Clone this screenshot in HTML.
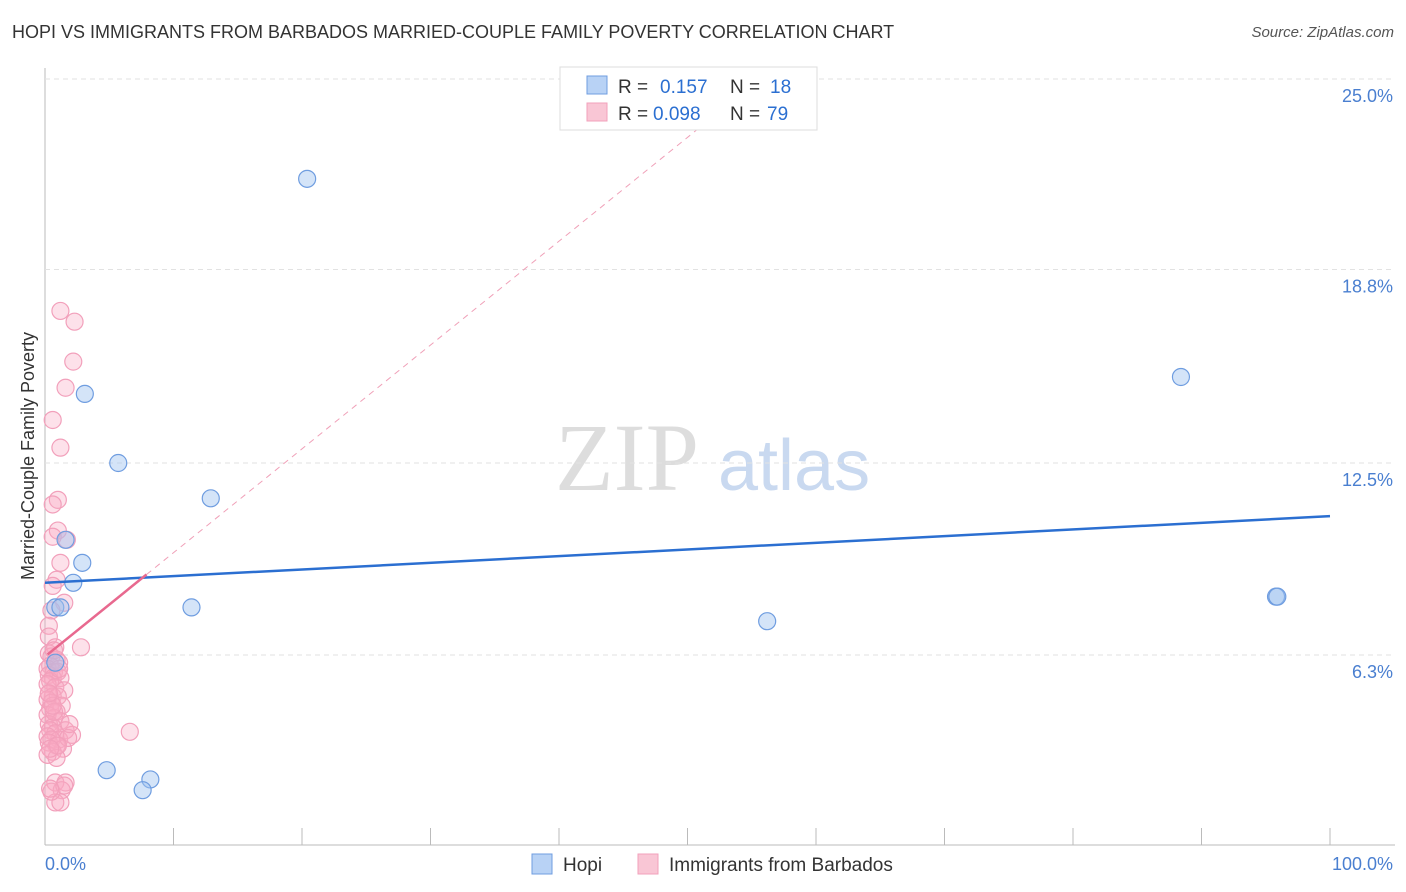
<!DOCTYPE html>
<html><head><meta charset="utf-8"><style>
body{margin:0;background:#fff;font-family:"Liberation Sans",sans-serif}
#c{position:relative;width:1406px;height:892px}
</style></head><body>
<div id="c">
<div style="position:absolute;left:12px;top:22px;font-size:18px;color:#333">HOPI VS IMMIGRANTS FROM BARBADOS MARRIED-COUPLE FAMILY POVERTY CORRELATION CHART</div>
<div style="position:absolute;right:12px;top:24px;font-size:15px;color:#555;font-style:italic">Source: ZipAtlas.com</div>
<svg id="s" width="1406" height="892" style="position:absolute;left:0;top:0"></svg>
</div>
<script>
const yTicks=[6.3,12.5,18.8,25.0];
const yTickLabels=["6.3%","12.5%","18.8%","25.0%"];
const hopiX=[20.4,3.1,5.7,12.9,1.6,2.9,2.2,0.8,1.2,11.4,56.2,88.4,95.8,95.9,4.8,8.2,7.6,0.8];
const hopiY=[21.75,14.75,12.5,11.35,10.0,9.25,8.6,7.8,7.8,7.8,7.35,15.3,8.15,8.15,2.5,2.2,1.85,6.0];
const barbX=[1.2,2.3,2.2,1.6,0.6,1.2,1.0,0.6,1.0,0.6,1.7,1.2,0.9,0.6,1.5,0.5,0.3,0.3,2.8,0.8,0.3,0.5,0.9,1.1,0.4,0.2,0.7,1.0,0.3,0.6,1.2,0.4,0.2,0.8,1.5,0.3,0.6,1.0,0.2,0.5,1.3,0.4,0.9,0.2,0.7,1.2,0.3,0.6,1.6,0.4,0.8,0.2,1.1,0.5,0.3,0.9,1.4,0.6,0.2,0.7,6.6,2.1,1.8,0.9,0.8,1.6,1.3,0.8,1.2,0.5,1.5,0.4,1.0,0.6,0.3,1.9,0.7,1.1,0.4];
const barbY=[17.45,17.1,15.8,14.95,13.9,13.0,11.3,11.15,10.3,10.1,10.0,9.25,8.7,8.5,7.95,7.7,7.2,6.85,6.5,6.5,6.3,6.2,6.1,6.0,5.9,5.8,5.7,5.7,5.6,5.5,5.5,5.4,5.3,5.2,5.1,5.0,4.9,4.9,4.8,4.7,4.6,4.5,4.4,4.3,4.2,4.1,4.0,3.9,3.8,3.8,3.7,3.6,3.5,3.5,3.4,3.3,3.2,3.1,3.0,4.4,3.75,3.65,3.55,2.9,2.1,2.1,1.85,1.45,1.45,1.8,2.0,1.9,3.3,4.6,5.0,4.0,6.4,5.8,3.2];
const hopiTrend=[8.6,10.77];
const barbTrend=[6.2,0.338];
const X=p=>45+p*12.85, Y=v=>847-v*30.72;
const s=document.getElementById('s');const NS='http://www.w3.org/2000/svg';
function mk(t,a,name){const e=document.createElementNS(NS,t);for(const k in a)e.setAttribute(k,a[k]);


s.appendChild(e);return e;}
const wm=mk('text',{x:555,y:490,'font-size':96,fill:'#ddd','font-family':'Liberation Serif'},'watermark');wm.textContent='ZIP';
const wm2=mk('text',{x:718,y:490,'font-size':72,fill:'#c9d9f0'},'watermark-atlas');wm2.textContent='atlas';
mk('line',{x1:45,y1:68,x2:45,y2:845,stroke:'#bbb'},'y-axis-line');
mk('line',{x1:45,y1:845,x2:1395,y2:845,stroke:'#bbb'},'x-axis-line');
for(let i=0;i<=10;i++)mk('line',{x1:X(i*10),y1:828,x2:X(i*10),y2:845,stroke:'#bbb'},'x-tick');
yTicks.forEach((v,i)=>{mk('line',{x1:45,y1:Y(v===25?25:v===6.3?6.25:v),x2:1395,y2:Y(v===25?25:v===6.3?6.25:v),stroke:'#e2e2e2','stroke-dasharray':'5,4'},'gridline');
const t=mk('text',{x:1393,y:Y(v===6.3?6.25:v)+23,'text-anchor':'end','font-size':18,fill:'#4a7fd0'},'y-tick-label');t.textContent=yTickLabels[i];});
const xl=mk('text',{x:45,y:870,'font-size':18,fill:'#4a7fd0'},'x-min-label');xl.textContent='0.0%';
const xr=mk('text',{x:1393,y:870,'text-anchor':'end','font-size':18,fill:'#4a7fd0'},'x-max-label');xr.textContent='100.0%';
const yt=mk('text',{transform:'translate(34,456) rotate(-90)','text-anchor':'middle','font-size':18,fill:'#333'},'y-axis-title');yt.textContent='Married-Couple Family Poverty';
// pink dashed extension
const pEnd=(25-barbTrend[0])/barbTrend[1];
mk('line',{x1:X(7.9),y1:Y(barbTrend[0]+barbTrend[1]*7.9),x2:X(pEnd),y2:Y(25),stroke:'#f0a0b8','stroke-dasharray':'6,5'},'barbados-trend-extension');
barbX.forEach((x,i)=>mk('circle',{cx:X(x),cy:Y(barbY[i]),r:8.5,fill:'rgba(248,170,195,0.35)',stroke:'#f2a0bb','stroke-width':1.2},'barbados-point'));
hopiX.forEach((x,i)=>mk('circle',{cx:X(x),cy:Y(hopiY[i]),r:8.5,fill:'rgba(160,195,240,0.45)',stroke:'#6f9de0','stroke-width':1.2},'hopi-point'));
mk('line',{x1:X(0),y1:Y(hopiTrend[0]),x2:X(100),y2:Y(hopiTrend[1]),stroke:'#2b6fd1','stroke-width':2.5},'hopi-trend-line');
mk('line',{x1:X(0.2),y1:Y(barbTrend[0]+barbTrend[1]*0.2),x2:X(7.9),y2:Y(barbTrend[0]+barbTrend[1]*7.9),stroke:'#e8698f','stroke-width':2.5},'barbados-trend-line');
// legend
mk('rect',{x:560,y:67,width:257,height:63,fill:'#fff',stroke:'#ddd'},'legend-box');
mk('rect',{x:587,y:76,width:20,height:18,fill:'#b8d2f5',stroke:'#6f9de0'},'legend-hopi-swatch');
mk('rect',{x:587,y:103,width:20,height:18,fill:'#f9c6d5',stroke:'#f2a0bb'},'legend-barbados-swatch');
function lt(x,y,txt,c,n){const t=mk('text',{x:x,y:y,'font-size':19,fill:c},n);t.textContent=txt;}
lt(618,93,'R =','#333','legend-r-label');lt(660,93,'0.157','#2b6fd1','legend-hopi-r');lt(730,93,'N =','#333','legend-n-label');lt(770,93,'18','#2b6fd1','legend-hopi-n');
lt(618,120,'R =','#333','legend-r-label');lt(653,120,'0.098','#2b6fd1','legend-barbados-r');lt(730,120,'N =','#333','legend-n-label');lt(767,120,'79','#2b6fd1','legend-barbados-n');
mk('rect',{x:532,y:854,width:20,height:20,fill:'#b8d2f5',stroke:'#6f9de0'},'bottom-legend-hopi-swatch');
lt(563,871,'Hopi','#333','bottom-legend-hopi');
mk('rect',{x:638,y:854,width:20,height:20,fill:'#f9c6d5',stroke:'#f2a0bb'},'bottom-legend-barbados-swatch');
lt(669,871,'Immigrants from Barbados','#333','bottom-legend-barbados');
</script>
</body></html>
